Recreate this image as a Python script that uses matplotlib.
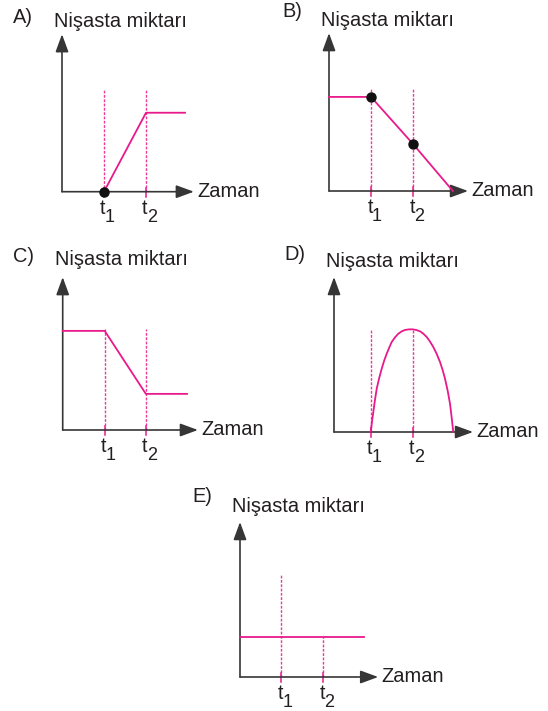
import numpy as np
import matplotlib.pyplot as plt

plt.rcParams['font.family'] = ['Liberation Sans', 'DejaVu Sans']

PINK = '#E8198B'
DASH_PINK = '#EC3A9A'
AXIS = '#363636'
INK = '#231F20'
PX = 42.0  # pixels per data unit, same on both axes

# --- panel data (time in units of t1/t2 spacing, amount in the same units) ---
letters = ['A)', 'B)', 'C)', 'D)', 'E)']
y_label = 'Nişasta miktarı'
x_label = 'Zaman'

t_marks_A = [1.0, 2.0]
curve_A_x = [1.0, 2.0, 2.93]
curve_A_y = [0.0, 1.88, 1.88]
dots_A = [(1.0, 0.0)]

t_marks_B = [1.0, 2.0]
curve_B_x = [0.0, 1.0, 2.0, 2.95]
curve_B_y = [2.24, 2.24, 1.12, 0.0]
dots_B = [(1.0, 2.24), (2.0, 1.12)]

t_marks_C = [1.0, 1.98]
curve_C_x = [0.0, 1.0, 1.98, 2.96]
curve_C_y = [2.36, 2.36, 0.86, 0.86]

t_marks_D = [0.88, 1.88]
curve_D_x = [0.874, 0.905, 0.936, 0.975, 1.017, 1.075, 1.136, 1.195, 1.255,
             1.315, 1.374, 1.450, 1.531, 1.610, 1.690, 1.780, 1.864, 1.955,
             2.048, 2.128, 2.207, 2.285, 2.364, 2.445, 2.524, 2.585, 2.643,
             2.705, 2.762, 2.800, 2.840]
curve_D_y = [0.0, 0.25, 0.476, 0.76, 1.031, 1.28, 1.507, 1.70, 1.864,
             2.01, 2.143, 2.25, 2.340, 2.395, 2.429, 2.443, 2.445, 2.430,
             2.398, 2.340, 2.262, 2.155, 2.024, 1.860, 1.667, 1.480, 1.269,
             0.990, 0.674, 0.360, 0.0]

t_marks_E = [0.98, 1.98]
curve_E_x = [0.0, 2.95]
curve_E_y = [0.96, 0.96]

fig = plt.figure(figsize=(5.48, 7.11), dpi=100)
W, H = 548, 711


def make_axes(ox, oy):
    # ox, oy: pixel position of the origin (y measured from the top)
    left, right, up, down = 60, 215, 195, 35
    ax = fig.add_axes([(ox - left) / W, (H - oy - down) / H,
                       (left + right) / W, (up + down) / H])
    ax.set_xlim(-left / PX, right / PX)
    ax.set_ylim(-down / PX, up / PX)
    ax.axis('off')
    ax.patch.set_alpha(0)
    return ax


def draw_frame(ax, letter, x_end, y_end, letter_pos):
    arrow = dict(arrowstyle='-|>,head_length=0.6,head_width=0.22',
                 color=AXIS, lw=1.2, shrinkA=0, shrinkB=0, mutation_scale=18)
    ax.annotate('', xy=(x_end, 0), xytext=(0, 0), arrowprops=arrow)
    ax.annotate('', xy=(0, y_end), xytext=(0, 0), arrowprops=arrow)
    ax.text(x_end + 3 / PX, -5 / PX, x_label, fontsize=14.4, color=INK,
            ha='left', va='baseline')
    ax.text(-8 / PX, 165 / PX, y_label, fontsize=14.4, color=INK,
            ha='left', va='baseline')
    ax.text(letter_pos[0] / PX, letter_pos[1] / PX, letter, fontsize=14.4,
            color=INK, ha='left', va='baseline')


def draw_times(ax, t_marks, tops):
    for i, (t, top) in enumerate(zip(t_marks, tops)):
        ax.plot([t, t], [0, top], color=DASH_PINK, lw=1.0,
                linestyle=(0, (2.0, 1.1)), zorder=2)
        ax.plot([t, t], [-5 / PX, 4 / PX], color=PINK, lw=1.1, zorder=2)
        ax.text(t - 1.0 / PX, -22 / PX, 't', fontsize=14.4, color=INK,
                ha='center', va='baseline')
        ax.text(t + 1.0 / PX, -30 / PX, str(i + 1), fontsize=13, color=INK,
                ha='left', va='baseline')


# A
ax = make_axes(62, 191.7)
draw_frame(ax, letters[0], 3.14, 3.75, (-49, 169))
draw_times(ax, t_marks_A, [2.42, 2.42])
ax.plot(curve_A_x, curve_A_y, color=PINK, lw=1.3, zorder=3)
for x, y in dots_A:
    ax.plot(x, y, 'o', color='#111111', ms=6.5, zorder=4)

# B
ax = make_axes(329, 191)
draw_frame(ax, letters[1], 3.31, 3.76, (-47, 174))
draw_times(ax, t_marks_B, [2.43, 2.43])
ax.plot(curve_B_x, curve_B_y, color=PINK, lw=1.3, zorder=3)
for x, y in dots_B:
    ax.plot(x, y, 'o', color='#111111', ms=6.5, zorder=4)

# C
ax = make_axes(62.7, 430)
draw_frame(ax, letters[2], 3.22, 3.64, (-50, 168))
draw_times(ax, t_marks_C, [2.4, 2.4])
ax.plot(curve_C_x, curve_C_y, color=PINK, lw=1.3, zorder=3)

# D
ax = make_axes(334, 432)
draw_frame(ax, letters[3], 3.31, 3.69, (-50, 172))
draw_times(ax, t_marks_D, [2.43, max(curve_D_y)])
ax.plot(curve_D_x, curve_D_y, color=PINK, lw=1.3, zorder=3)

# E
ax = make_axes(240, 677)
draw_frame(ax, letters[4], 3.29, 3.69, (-48, 175))
draw_times(ax, t_marks_E, [2.43, curve_E_y[0]])
ax.plot(curve_E_x, curve_E_y, color=PINK, lw=1.3, zorder=3)

fig.savefig('out.png', dpi=100)
